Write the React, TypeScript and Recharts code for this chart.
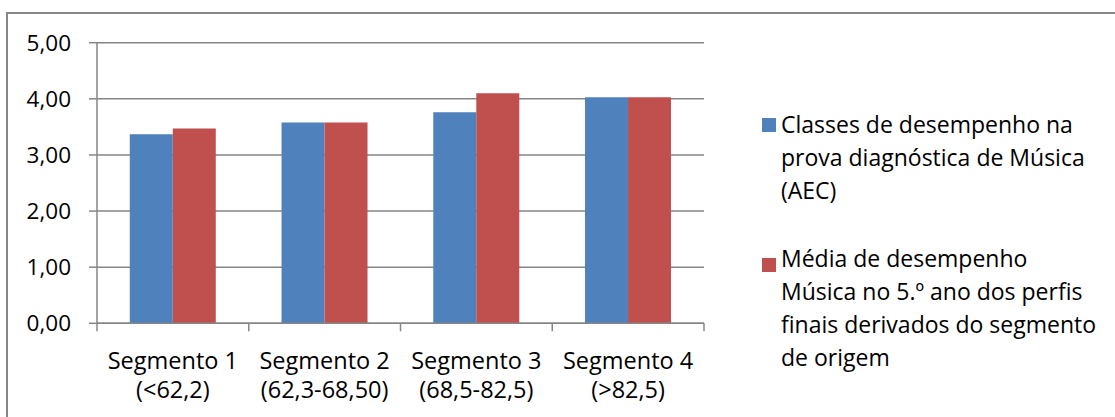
import React from 'react';
import { BarChart, Bar, XAxis, YAxis, CartesianGrid, Legend } from 'recharts';

const categories = ['Segmento 1', 'Segmento 2', 'Segmento 3', 'Segmento 4'];
const ranges = ['(<62,2)', '(62,3-68,50)', '(68,5-82,5)', '(>82,5)'];
const classesAEC = [3.37, 3.58, 3.76, 4.03];
const mediaMusica = [3.47, 3.58, 4.1, 4.03];
const yTicks = [0, 1, 2, 3, 4, 5];
const seriesNames = [
  'Classes de desempenho na prova diagnóstica de Música (AEC)',
  'Média de desempenho Música no 5.º ano dos perfis finais derivados do segmento de origem',
];
const legendLines = [
  ['Classes de desempenho na', 'prova diagnóstica de Música', '(AEC)'],
  ['Média de desempenho', 'Música no 5.º ano dos perfis', 'finais derivados do segmento', 'de origem'],
];
const colors = ['#4F81BD', '#C0504D'];

const data = categories.map((c, i) => ({
  name: c,
  a: classesAEC[i],
  b: mediaMusica[i],
}));

const FONT = '"Open Sans", sans-serif';
const GRAY = '#868686';
const W = 1115;
const H = 417;
const MARGIN = { top: 42.7, right: 411, bottom: 33.7, left: 17 };
const PLOT_W = W - MARGIN.left - 80 - MARGIN.right;

const XTick = (props: any) => {
  const { x, y, payload, index } = props;
  const i = payload?.index ?? index;
  const half = payload?.offset || PLOT_W / categories.length / 2;
  return (
    <g>
      <line x1={x - half} x2={x - half} y1={y - 8} y2={y} stroke={GRAY} strokeWidth={1.5} />
      {i === categories.length - 1 && (
        <line x1={x + half} x2={x + half} y1={y - 8} y2={y} stroke={GRAY} strokeWidth={1.5} />
      )}
      <text x={x} y={y + 38} textAnchor="middle" fontFamily={FONT} fontSize={23.5} fill="#000">
        <tspan x={x}>{payload.value}</tspan>
        <tspan x={x} dy={28.3}>{ranges[i]}</tspan>
      </text>
    </g>
  );
};

const renderLegend = (props: any) => {
  const payload = props.payload || [];
  const textTops = [0, 134.4];
  const squareTops = [10.3, 150.3];
  return (
    <div style={{ position: 'relative', width: 354, height: 280, fontFamily: FONT, fontSize: 23, lineHeight: '33px', color: '#000' }}>
      {payload.map((entry: any, i: number) => (
        <React.Fragment key={i}>
          <div style={{ position: 'absolute', left: 0.7, top: squareTops[i], width: 14, height: 14, background: entry.color }} />
          <div style={{ position: 'absolute', left: 20, top: textTops[i], whiteSpace: 'nowrap' }}>
            {legendLines[i].map((l, j) => (
              <div key={j}>{l}</div>
            ))}
          </div>
        </React.Fragment>
      ))}
    </div>
  );
};

export default function App() {
  return (
    <div style={{ position: 'fixed', left: 0, top: 0, width: W, height: H, overflow: 'hidden', background: '#fff' }}>
      <div
        style={{
          position: 'absolute',
          left: 6,
          top: 12,
          width: W + 50,
          height: H + 50,
          border: `2px solid ${GRAY}`,
          boxSizing: 'border-box',
        }}
      />
      <div style={{ position: 'absolute', left: 0, top: 0 }}>
        <BarChart width={W} height={H} data={data} margin={MARGIN} barCategoryGap="21.6%" barGap={0}>
          <CartesianGrid vertical={false} stroke={GRAY} strokeWidth={1.5} />
          <XAxis
            dataKey="name"
            height={60}
            axisLine={{ stroke: GRAY, strokeWidth: 1.5 }}
            tickLine={false}
            tickSize={8}
            tickMargin={0}
            interval={0}
            tick={<XTick />}
          />
          <YAxis
            width={80}
            domain={[0, 5]}
            ticks={yTicks}
            interval={0}
            axisLine={{ stroke: GRAY, strokeWidth: 1.5 }}
            tickLine={{ stroke: GRAY, strokeWidth: 1.5 }}
            tickSize={8}
            tickMargin={18}
            tickFormatter={(v: number) => v.toFixed(2).replace('.', ',')}
            tick={{ fontFamily: FONT, fontSize: 22.5, fill: '#000' }}
          />
          <Legend
            layout="horizontal"
            align="center"
            verticalAlign="middle"
            wrapperStyle={{ position: 'absolute', left: 761, top: 108, width: 354, height: 280 }}
            content={renderLegend}
          />
          <Bar dataKey="a" name={seriesNames[0]} fill={colors[0]} isAnimationActive={false} />
          <Bar dataKey="b" name={seriesNames[1]} fill={colors[1]} isAnimationActive={false} />
        </BarChart>
      </div>
    </div>
  );
}
